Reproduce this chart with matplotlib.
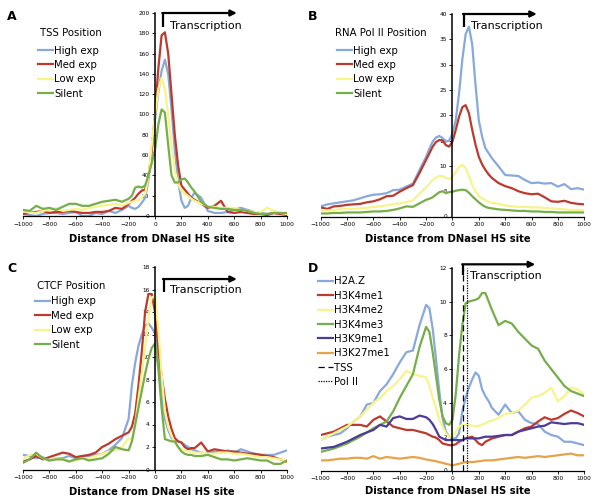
import matplotlib
matplotlib.use('Agg')
import matplotlib.pyplot as plt

# ============================================
# DATA
# ============================================
# shared distance grid (finer around the HS site)
POS = [-1000, -950, -900, -850, -800, -750, -700, -650, -600, -550, -500, -450, -400, -350, -300, -250, -200,
       -175, -150, -125, -100, -75, -50, -25, 0, 25, 50, 75, 100, 125, 150, 175, 200, 225, 250, 275, 300,
       350, 400, 450, 500, 550, 600, 650, 700, 750, 800, 850, 900, 950, 1000]

EXP_LABELS = ['High exp', 'Med exp', 'Low exp', 'Silent']

# --- A: TSS position ---
tss_high = [2, 1, 0, 2, 3, 3, 2, 3, 4, 0, 0, 3, 2, 5, 3, 6, 10,
            8, 7, 9, 13, 18, 35, 62, 95, 122, 143, 154, 140, 105, 65, 35, 15, 8, 10, 18, 23,
            18, 5, 3, 3, 4, 6, 8, 6, 4, 3, 2, 3, 2, 2]
tss_med = [2, 3, 4, 5, 3, 4, 4, 5, 4, 3, 3, 4, 4, 5, 8, 7, 12,
           15, 18, 22, 25, 26, 38, 65, 100, 145, 178, 181, 160, 120, 80, 50, 30, 26, 22, 18, 16,
           12, 8, 10, 15, 4, 3, 4, 3, 2, 2, 1, 3, 2, 1]
tss_low = [5, 3, 3, 5, 6, 8, 5, 6, 7, 6, 8, 9, 10, 11, 12, 10, 13,
           14, 15, 16, 18, 22, 38, 70, 100, 125, 136, 125, 100, 70, 45, 32, 25, 22, 20, 17, 15,
           12, 10, 9, 8, 8, 8, 6, 5, 4, 4, 8, 5, 3, 2]
tss_silent = [6, 5, 10, 7, 8, 6, 9, 12, 12, 10, 10, 12, 14, 15, 16, 14, 17,
              20, 28, 29, 28, 30, 40, 52, 65, 90, 105, 102, 70, 40, 33, 33, 36, 37, 33, 28, 24,
              14, 9, 8, 7, 7, 6, 6, 5, 3, 2, 2, 3, 3, 3]

# --- B: RNA Pol II position ---
pol_high = [2.0, 2.4, 2.6, 2.8, 3.0, 3.2, 3.6, 4.0, 4.3, 4.4, 4.6, 5.2, 5.3, 5.9, 6.5, 9.2, 11.8,
            13.4, 14.8, 15.6, 15.9, 15.5, 14.8, 15.0, 16.4, 19.0, 24.3, 31.0, 36.0, 37.5, 34.0, 26.0, 19.0, 15.8, 13.5, 12.5, 11.5,
            9.9, 8.2, 8.1, 8.0, 7.2, 6.6, 6.7, 6.5, 6.6, 5.9, 6.4, 5.4, 5.6, 5.3]
pol_med = [1.8, 1.5, 2.0, 2.1, 2.3, 2.4, 2.5, 2.8, 3.0, 3.4, 4.0, 4.1, 4.9, 5.6, 6.2, 8.6, 11.2,
           12.5, 13.8, 14.7, 15.1, 15.0, 14.1, 13.8, 14.8, 17.1, 19.7, 21.6, 22.0, 20.4, 17.1, 14.2, 11.8, 10.3, 9.2, 8.3, 7.6,
           6.6, 6.0, 5.6, 5.0, 4.6, 4.4, 4.5, 3.8, 3.0, 2.9, 3.1, 2.7, 2.5, 2.4]
pol_low = [1.2, 1.2, 1.3, 1.4, 1.5, 1.5, 1.6, 1.7, 1.9, 2.0, 2.2, 2.4, 2.6, 2.8, 3.2, 4.5, 5.8,
           6.5, 7.2, 7.7, 8.0, 8.0, 7.6, 7.4, 7.8, 8.8, 9.8, 10.2, 9.6, 8.0, 6.2, 5.0, 4.0, 3.6, 3.2, 2.9, 2.7,
           2.5, 2.2, 2.0, 1.9, 1.9, 1.8, 1.8, 1.7, 1.6, 1.5, 1.4, 1.3, 1.3, 1.2]
pol_silent = [0.6, 0.6, 0.7, 0.7, 0.8, 0.8, 0.8, 0.9, 1.0, 1.0, 1.1, 1.3, 1.6, 2.0, 1.9, 2.6, 3.3,
              3.5, 3.8, 4.3, 4.8, 5.0, 4.6, 4.8, 4.9, 5.1, 5.2, 5.3, 5.2, 4.7, 4.0, 3.4, 2.8, 2.3, 1.9, 1.7, 1.6,
              1.4, 1.3, 1.2, 1.1, 1.1, 1.0, 1.0, 0.9, 0.9, 0.8, 0.8, 0.8, 0.8, 0.8]

# --- C: CTCF position ---
ctcf_high = [1.3, 1.2, 1.0, 1.1, 0.8, 1.0, 1.0, 1.2, 1.0, 1.2, 1.2, 1.3, 1.4, 1.7, 2.2, 2.8, 4.5,
             7.5, 9.5, 11.0, 12.0, 12.8, 13.0, 12.6, 12.1, 9.5, 6.5, 4.5, 3.5, 2.8, 2.5, 2.5, 2.4, 2.2, 2.0, 1.8, 1.7,
             1.5, 1.4, 1.6, 1.5, 1.7, 1.5, 1.8, 1.6, 1.4, 1.3, 1.3, 1.3, 1.5, 1.7]
ctcf_med = [0.7, 0.9, 1.2, 0.9, 1.1, 1.3, 1.5, 1.4, 1.1, 1.2, 1.3, 1.5, 2.0, 2.3, 2.7, 3.0, 3.3,
            3.8, 5.0, 7.5, 10.5, 14.0, 15.6, 15.6, 14.0, 10.8, 8.3, 6.3, 4.7, 3.6, 2.8, 2.5, 2.4, 2.0, 1.8, 1.9, 1.9,
            2.4, 1.6, 1.8, 1.7, 1.6, 1.6, 1.5, 1.4, 1.4, 1.3, 1.2, 1.1, 0.9, 0.7]
ctcf_low = [0.9, 1.3, 1.4, 1.0, 0.8, 1.0, 0.9, 0.8, 0.8, 1.0, 1.0, 1.2, 1.4, 1.6, 1.7, 2.0, 2.8,
            2.6, 4.0, 6.3, 8.5, 10.8, 13.5, 15.3, 15.4, 12.5, 8.5, 5.2, 3.8, 3.0, 2.4, 2.0, 1.8, 1.7, 1.6, 1.6, 1.5,
            1.5, 1.4, 1.4, 1.5, 1.5, 1.4, 1.4, 1.3, 1.2, 1.1, 1.1, 1.0, 0.9, 0.8]
ctcf_silent = [0.6, 0.9, 1.5, 1.0, 0.8, 0.9, 0.9, 0.7, 0.9, 1.0, 0.8, 0.9, 1.0, 1.4, 2.0, 1.8, 1.7,
               2.5, 4.0, 5.5, 7.0, 8.5, 9.8, 10.8, 11.2, 9.0, 5.5, 2.7, 2.6, 2.5, 2.5, 2.0, 1.6, 1.4, 1.3, 1.3, 1.2,
               1.2, 1.3, 1.1, 0.9, 0.9, 0.8, 0.9, 1.0, 0.9, 0.8, 0.8, 0.5, 0.5, 0.8]

# --- D: histone marks ---
MARK_LABELS = ['H2A.Z', 'H3K4me1', 'H3K4me2', 'H3K4me3', 'H3K9me1', 'H3K27me1']
h2az = [1.8, 2.0, 2.1, 2.2, 2.5, 2.9, 3.2, 3.9, 4.0, 4.7, 5.1, 5.7, 6.4, 7.0, 7.1, 8.6, 9.8,
        9.6, 8.4, 6.6, 4.7, 3.1, 2.3, 2.0, 1.9, 1.9, 2.2, 3.5, 4.3, 4.9, 5.4, 5.8, 5.6, 4.8, 4.4, 4.1, 3.7,
        3.3, 3.9, 3.4, 3.5, 3.0, 2.8, 2.75, 2.3, 2.1, 2.0, 1.7, 1.7, 1.6, 1.5]
h3k4me1 = [2.1, 2.2, 2.3, 2.5, 2.7, 2.7, 2.7, 2.6, 3.0, 3.2, 2.9, 2.6, 2.5, 2.4, 2.4, 2.3, 2.2,
           2.1, 2.0, 1.95, 1.8, 1.6, 1.55, 1.5, 1.5, 1.55, 1.7, 1.8, 1.9, 1.95, 2.0, 1.8, 1.6, 1.5, 1.7, 1.8, 1.9,
           2.0, 2.1, 2.1, 2.3, 2.5, 2.6, 2.9, 3.15, 3.0, 3.1, 3.35, 3.55, 3.4, 3.2]
h3k4me2 = [1.8, 2.0, 2.2, 2.4, 2.6, 2.9, 3.2, 3.6, 4.0, 4.3, 4.7, 5.0, 5.4, 5.9, 5.7, 5.6, 5.5,
           5.0, 4.3, 3.7, 3.0, 2.6, 2.2, 2.0, 2.0, 2.3, 2.6, 2.7, 2.7, 2.7, 2.65, 2.6, 2.65, 2.7, 2.8, 2.9, 2.95,
           3.1, 3.35, 3.4, 3.55, 3.9, 4.3, 4.4, 4.6, 4.9, 4.1, 4.4, 4.9, 4.8, 4.5]
h3k4me3 = [1.1, 1.2, 1.3, 1.45, 1.6, 1.8, 2.0, 2.25, 2.5, 2.7, 2.9, 3.5, 4.3, 5.0, 5.7, 7.3, 8.5,
           8.2, 7.0, 5.6, 4.2, 3.2, 2.8, 2.7, 3.0, 4.5, 6.8, 8.6, 9.9, 10.0, 10.05, 10.1, 10.2, 10.5, 10.5, 10.0, 9.5,
           8.6, 8.85, 8.7, 8.2, 7.8, 7.4, 7.2, 6.5, 6.0, 5.5, 5.0, 4.7, 4.55, 4.4]
h3k9me1 = [1.3, 1.35, 1.4, 1.55, 1.7, 1.9, 2.1, 2.25, 2.4, 2.7, 2.6, 3.1, 3.2, 3.05, 3.05, 3.25, 3.15,
           3.0, 2.75, 2.4, 2.0, 1.9, 1.8, 1.8, 1.8, 1.8, 1.8, 1.8, 1.9, 1.9, 1.9, 1.9, 1.9, 1.95, 2.0, 2.0, 2.0,
           2.05, 2.1, 2.1, 2.3, 2.4, 2.5, 2.6, 2.65, 2.85, 2.8, 2.75, 2.8, 2.8, 2.7]
h3k27me1 = [0.6, 0.6, 0.65, 0.7, 0.7, 0.75, 0.75, 0.7, 0.85, 0.7, 0.8, 0.75, 0.7, 0.75, 0.8, 0.75, 0.65,
            0.62, 0.58, 0.55, 0.5, 0.45, 0.4, 0.35, 0.3, 0.35, 0.4, 0.45, 0.5, 0.5, 0.5, 0.52, 0.55, 0.57, 0.6, 0.6, 0.6,
            0.65, 0.7, 0.75, 0.8, 0.75, 0.8, 0.85, 0.8, 0.85, 0.9, 0.95, 1.0, 0.9, 0.9]
TSS_X = 82
POLII_X = 108

# ============================================
# STYLE
# ============================================
BLUE = '#88a9dc'
RED = '#bd3a2e'
YELLOW = '#f7f48c'
GREEN = '#76ae4a'
PURPLE = '#4a3c98'
ORANGE = '#e6a349'
EXP_COLORS = [BLUE, RED, YELLOW, GREEN]
MARK_COLORS = [BLUE, RED, YELLOW, GREEN, PURPLE, ORANGE]
LEG_FS = 7.3

plt.rcParams['font.family'] = 'DejaVu Sans'

fig = plt.figure(figsize=(6, 5.03), dpi=100)
W, H = 600, 503


def px_axes(left, top, right, bottom):
    return fig.add_axes([left / W, 1 - bottom / H, (right - left) / W, (bottom - top) / H])


def style_axes(ax, ymax, ystep):
    ax.set_xlim(-1000, 1000)
    ax.set_ylim(0, ymax)
    ax.set_xticks(range(-1000, 1001, 200))
    ax.set_yticks([v * ystep for v in range(int(round(ymax / ystep)) + 1)])
    ax.spines['left'].set_position(('data', 0))
    ax.spines['top'].set_visible(False)
    ax.spines['right'].set_visible(False)
    ax.spines['left'].set_linewidth(1.1)
    ax.spines['bottom'].set_linewidth(0.9)
    ax.tick_params(labelsize=4.2, length=2.5, width=0.6, pad=1.5)
    ax.patch.set_alpha(0)


def transcription(ax, xv, ybot, ytop, xend, tx, ty):
    ax.plot([xv, xv], [ybot, ytop], color='black', lw=1.6, clip_on=False, solid_capstyle='butt')
    ax.annotate('', xy=(xend, ytop), xytext=(xv - 8, ytop), annotation_clip=False,
                arrowprops=dict(arrowstyle='-|>', color='black', lw=1.6, mutation_scale=9,
                                shrinkA=0, shrinkB=0))
    ax.text(tx, ty, 'Transcription', fontsize=8, va='center', ha='left')


def legend_at(ax, lx, ly, title=None, tx=None, ty=None):
    # ly is the top of the first entry row, in pixels
    ax.legend(loc='upper left', bbox_to_anchor=(lx / W, 1 - ly / H),
              bbox_transform=fig.transFigure, frameon=False, fontsize=LEG_FS,
              handlelength=1.45, handletextpad=0.15, labelspacing=0.43,
              borderpad=0, borderaxespad=0)
    if title:
        fig.text(tx / W, 1 - ty / H, title, fontsize=LEG_FS, ha='left', va='center')


# --- A ---
axA = px_axes(23, 13, 287, 216)
for ys, lab, col in zip([tss_high, tss_med, tss_low, tss_silent], EXP_LABELS, EXP_COLORS):
    axA.plot(POS, ys, color=col, lw=1.6, label=lab)
style_axes(axA, 200, 20)
transcription(axA, 63, 186, 200, 620, 114, 187)
legend_at(axA, 38, 45.5, 'TSS Position', 40, 33)

# --- B ---
axB = px_axes(320.7, 14, 584.2, 216.5)
for ys, lab, col in zip([pol_high, pol_med, pol_low, pol_silent], EXP_LABELS, EXP_COLORS):
    axB.plot(POS, ys, color=col, lw=1.6, label=lab)
style_axes(axB, 40, 5)
transcription(axB, 88, 37.5, 40, 640, 138, 37.7)
legend_at(axB, 337, 45.5, 'RNA Pol II Position', 335, 33)

# --- C ---
axC = px_axes(23, 267, 287, 469.5)
for ys, lab, col in zip([ctcf_high, ctcf_med, ctcf_low, ctcf_silent], EXP_LABELS, EXP_COLORS):
    axC.plot(POS, ys, color=col, lw=1.6, label=lab)
style_axes(axC, 18, 2)
transcription(axC, 68, 15.8, 16.93, 620, 114, 15.96)
legend_at(axC, 35, 296.5, 'CTCF Position', 37, 286)

# --- D ---
axD = px_axes(320.7, 267.7, 584.2, 470.5)
for ys, lab, col in zip([h2az, h3k4me1, h3k4me2, h3k4me3, h3k9me1, h3k27me1], MARK_LABELS, MARK_COLORS):
    axD.plot(POS, ys, color=col, lw=1.6, label=lab)
axD.plot([TSS_X, TSS_X], [0, 12], color='black', lw=0.9, ls=(0, (5, 3)), label='TSS')
axD.plot([POLII_X, POLII_X], [0, 12], color='black', lw=0.9, ls=(0, (1, 1)), label='Pol II')
style_axes(axD, 12, 2)
transcription(axD, TSS_X, 11.57, 12.2, 628, 133, 11.53)
legend_at(axD, 318, 276.5)

# panel letters and axis titles
for letter, (lx, ly) in zip('ABCD', [(12, 17), (313, 17), (12, 268), (313, 268)]):
    fig.text(lx / W, 1 - ly / H, letter, fontsize=9, fontweight='bold', ha='center', va='center')
for cx, cy in [(152, 238.5), (448, 238.5), (152, 492), (448, 491.5)]:
    fig.text(cx / W, 1 - cy / H, 'Distance from DNaseI HS site', fontsize=7.2,
             fontweight='bold', ha='center', va='center')

plt.savefig('out.png', dpi=100, facecolor='white')
